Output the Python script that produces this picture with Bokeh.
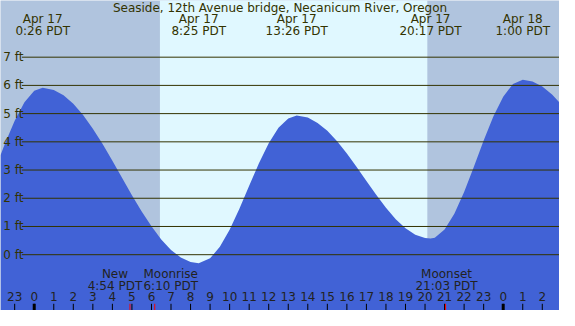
from bokeh.plotting import figure
from bokeh.models import Range1d, Label
from bokeh.embed import file_html
from bokeh.resources import INLINE
from bokeh.core.properties import value

chart_title = "Seaside, 12th Avenue bridge, Necanicum River, Oregon"

# Tide curve readings: hours since Apr 17 00:00 PDT, height in ft
tide_hours = [-1.726, -1.5, -1.0, -0.5, 0.0, 0.433, 1.0, 1.5, 2.0, 2.5, 3.0, 3.5, 4.0,
              4.5, 5.0, 5.5, 6.0, 6.5, 7.0, 7.5, 8.0, 8.417, 9.0, 9.5, 10.0, 10.5,
              11.0, 11.5, 12.0, 12.5, 13.0, 13.433, 14.0, 14.5, 15.0, 15.5, 16.0,
              16.5, 17.0, 17.5, 18.0, 18.5, 19.0, 19.5, 20.0, 20.283, 20.5, 21.0,
              21.5, 22.0, 22.5, 23.0, 23.5, 24.0, 24.5, 25.0, 25.5, 26.0, 26.5, 26.881]
tide_ft = [3.52, 3.93, 4.75, 5.40, 5.81, 5.92, 5.84, 5.65, 5.35, 4.95, 4.46, 3.92, 3.33,
           2.72, 2.11, 1.53, 1.01, 0.54, 0.17, -0.10, -0.26, -0.30, -0.13, 0.28, 0.88,
           1.63, 2.44, 3.24, 3.95, 4.50, 4.83, 4.93, 4.86, 4.67, 4.39, 4.02, 3.59,
           3.11, 2.61, 2.12, 1.66, 1.26, 0.94, 0.71, 0.59, 0.57, 0.60, 0.89,
           1.45, 2.22, 3.12, 4.05, 4.91, 5.60, 6.05, 6.20, 6.14, 5.96, 5.68, 5.39]

# High / low tide annotations
ext_hours = [0.433, 8.417, 13.433, 20.283, 25.0]
ext_dates = ["Apr 17", "Apr 17", "Apr 17", "Apr 17", "Apr 18"]
ext_times = ["0:26 PDT", "8:25 PDT", "13:26 PDT", "20:17 PDT", "1:00 PDT"]

# Sun
sunrise_hour = 6.433   # 6:26
sunset_hour = 20.117   # 20:07

# Moon events
moon_hours = [4.9, 6.167, 21.05]
moon_names = ["New", "Moonrise", "Moonset"]
moon_times = ["4:54 PDT", "6:10 PDT", "21:03 PDT"]

# Height levels
level_ft = [0, 1, 2, 3, 4, 5, 6, 7]
level_labels = ["0 ft", "1 ft", "2 ft", "3 ft", "4 ft", "5 ft", "6 ft", "7 ft"]

# Hour axis
hour_ticks = [-1, 0, 1, 2, 3, 4, 5, 6, 7, 8, 9, 10, 11, 12, 13, 14, 15, 16, 17, 18,
              19, 20, 21, 22, 23, 24, 25, 26]
hour_labels = ["23", "0", "1", "2", "3", "4", "5", "6", "7", "8", "9", "10", "11", "12",
               "13", "14", "15", "16", "17", "18", "19", "20", "21", "22", "23", "0",
               "1", "2"]
midnight_ticks = [0, 24]

# ---- layout / style ----
X0, X1 = -1.726, 26.881
Y0, Y1 = -1.978, 9.009
NIGHT = "#B0C4DE"
DAY = "#E0F8FF"
WATER = "#4162D6"
INK = "#333300"
FONT = value("DejaVu Sans")
FS = value("12px")

p = figure(width=559, height=310, x_range=Range1d(X0, X1), y_range=Range1d(Y0, Y1),
           output_backend="svg", toolbar_location=None,
           x_axis_location=None, y_axis_location=None, min_border=0)
p.grid.visible = False
p.outline_line_color = None
p.background_fill_color = NIGHT
p.border_fill_color = "white"

# daylight band
p.quad(left=[sunrise_hour], right=[sunset_hour], bottom=[Y0 - 1], top=[Y1 + 1],
       fill_color=DAY, line_color=None)

# tide fill
p.varea(x=tide_hours, y1=[Y0 - 1] * len(tide_hours), y2=tide_ft, fill_color=WATER)

# level lines
p.segment(x0=[-0.632] * len(level_ft), y0=level_ft, x1=[X1 + 1] * len(level_ft),
          y1=level_ft, line_color=INK, line_width=1)
p.text(x=[-1.58] * len(level_ft), y=level_ft, text=level_labels, text_align="left",
       text_baseline="middle", text_color=INK, text_font=FONT, text_font_size=FS)

# title
p.add_layout(Label(x=(X0 + X1) / 2, y=8.74, text=chart_title, text_align="center",
                   text_baseline="middle", text_color=INK, text_font="DejaVu Sans",
                   text_font_size="12px"))

# extreme annotations
p.text(x=ext_hours, y=[8.37] * len(ext_hours), text=ext_dates, text_align="center",
       text_baseline="middle", text_color=INK, text_font=FONT, text_font_size=FS)
p.text(x=ext_hours, y=[7.93] * len(ext_hours), text=ext_times, text_align="center",
       text_baseline="middle", text_color=INK, text_font=FONT, text_font_size=FS)

# hour ticks and labels
p.segment(x0=hour_ticks, y0=[-1.74] * len(hour_ticks), x1=hour_ticks,
          y1=[Y0 - 1] * len(hour_ticks), line_color="black", line_width=1)
p.segment(x0=midnight_ticks, y0=[-1.74] * 2, x1=midnight_ticks, y1=[Y0 - 1] * 2,
          line_color="black", line_width=3)
p.segment(x0=moon_hours, y0=[-1.74] * 3, x1=moon_hours, y1=[Y0 - 1] * 3,
          line_color="red", line_width=1)
p.text(x=hour_ticks, y=[-1.49] * len(hour_ticks), text=hour_labels, text_align="center",
       text_baseline="middle", text_color="#222222", text_font=FONT, text_font_size=FS)

# moon labels
moon_offsets = [-15, 16, 1]
p.text(x=moon_hours, y=[-0.675] * 3, text=moon_names, x_offset=moon_offsets,
       text_align="center", text_baseline="middle", text_color="#222222",
       text_font=FONT, text_font_size=FS)
p.text(x=moon_hours, y=[-1.10] * 3, text=moon_times, x_offset=moon_offsets,
       text_align="center", text_baseline="middle", text_color="#222222",
       text_font=FONT, text_font_size=FS)

open("out.html", "w").write(file_html(p, INLINE))
